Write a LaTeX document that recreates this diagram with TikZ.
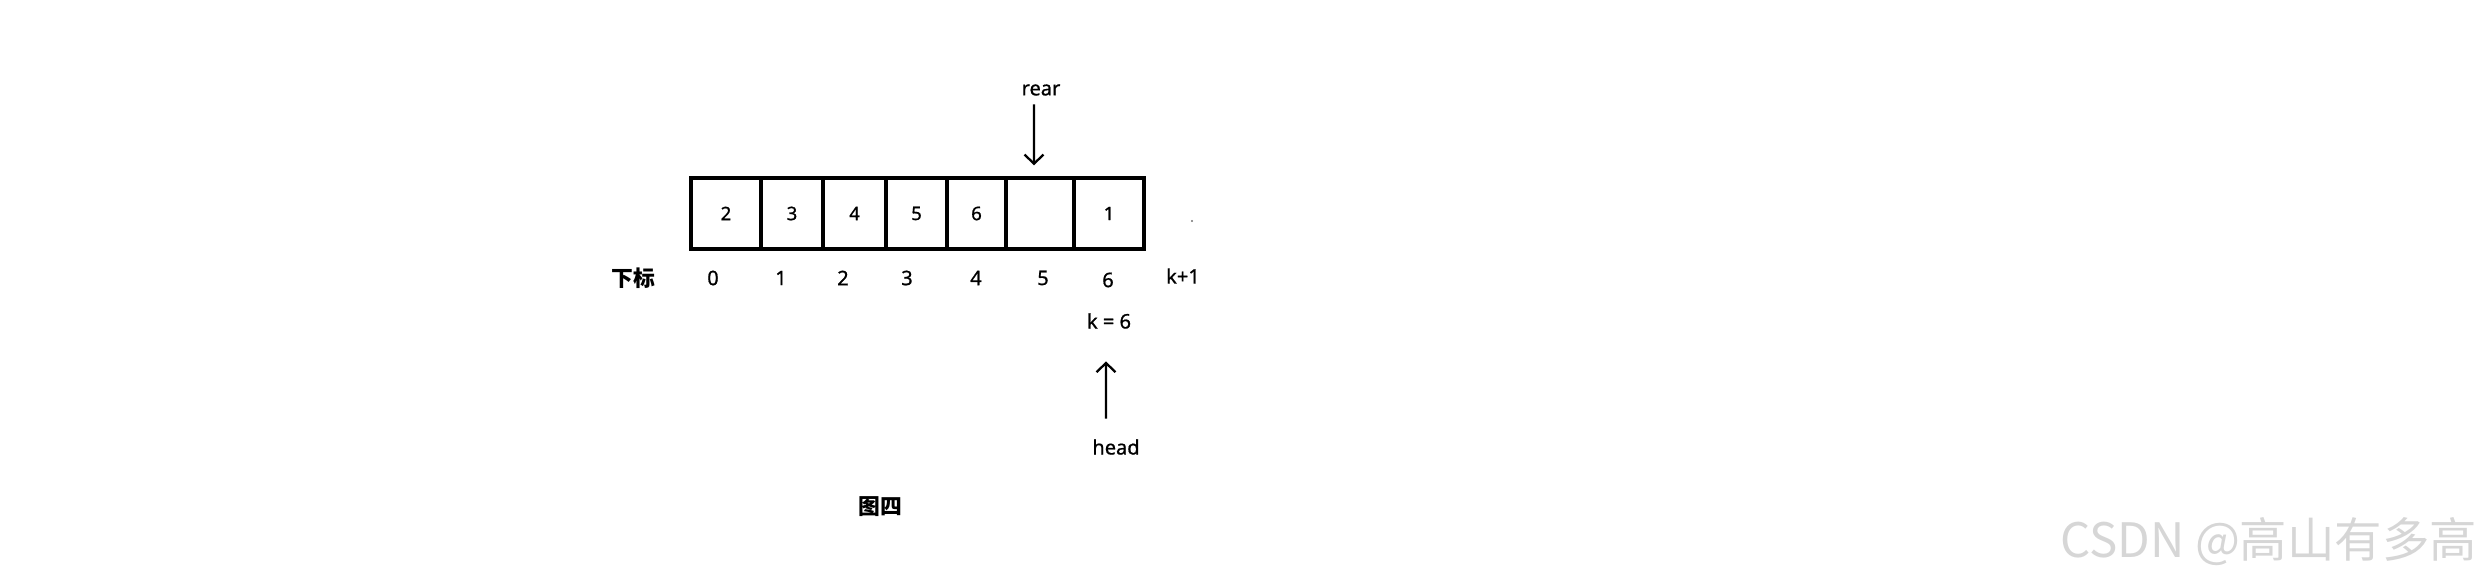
\documentclass[tikz,border=0pt]{standalone}
\usepackage{fontspec}
\setmainfont{Noto Sans}[FakeBold=0.8]
\newfontfamily\cjk{Noto Sans CJK SC}
\usepackage{tikz}
\usetikzlibrary{arrows.meta, positioning}
\definecolor{markgray}{RGB}{214, 214, 214}

\begin{document}
\begin{tikzpicture}[
          x=0.01cm, y=-0.01cm,
          cellbox/.style={draw, line width=0.95pt, minimum height=0.71cm, inner sep=0pt, font=\fontsize{5.3}{6}\selectfont},
          idxlabel/.style={inner sep=0pt, font=\fontsize{5.7}{7}\selectfont},
          ptrlabel/.style={inner sep=0pt, font=\fontsize{5.7}{7}\selectfont},
          cjklabel/.style={inner sep=0pt, font=\cjk\bfseries\fontsize{6.2}{8}\selectfont},
          arrow/.style={-{Straight Barb[length=2.6pt, width=5.4pt]}, line width=0.65pt}
        ]
          \useasboundingbox (0,0) rectangle (2484,580);

          % Queue cells
          \node[cellbox, minimum width=0.70cm] (c0) at (726, 213.5) {2};
          \node[cellbox, minimum width=0.62cm] (c1) at (792, 213.5) {3};
          \node[cellbox, minimum width=0.63cm] (c2) at (854.5, 213.5) {4};
          \node[cellbox, minimum width=0.61cm] (c3) at (916.5, 213.5) {5};
          \node[cellbox, minimum width=0.59cm] (c4) at (976.5, 213.5) {6};
          \node[cellbox, minimum width=0.68cm] (c5) at (1040, 213.5) {};
          \node[cellbox, minimum width=0.70cm] (c6) at (1109, 213.5) {1};
          \fill[black!55] (1192, 221) circle (1.2);

          % Index row
          \node[cjklabel] (idx) at (633, 278) {下标};
          \node[idxlabel] (i0) at (713, 278) {0};
          \node[idxlabel] (i1) at (781, 278) {1};
          \node[idxlabel] (i2) at (843, 278) {2};
          \node[idxlabel] (i3) at (907, 278) {3};
          \node[idxlabel] (i4) at (976, 278) {4};
          \node[idxlabel] (i5) at (1043, 278) {5};
          \node[idxlabel] (i6) at (1108, 280) {6};
          \node[idxlabel] (ik) at (1183, 276) {k+1};

          % Pointers
          \node[ptrlabel] (rear) at (1041, 90) {rear};
          \node[ptrlabel] (k) at (1109, 321) {k = 6};
          \node[ptrlabel] (head) at (1116, 447) {head};
          \draw[arrow, shorten <=0.08cm, shorten >=0.11cm] ([xshift=-0.07cm]rear.south) -- ([xshift=-0.06cm]c5.north);
          \draw[arrow, shorten <=0.2cm, shorten >=0.32cm] ([xshift=-0.1cm]head.north) -- ([xshift=-0.03cm]k.south);

          % Caption and watermark
          \node[cjklabel] (cap) at (880, 507) {图四};
          \node[anchor=east, inner sep=0pt, text=markgray, font=\cjk\fontsize{13.5}{16}\selectfont] (mark) at (2478, 542) {CSDN @高山有多高};
        \end{tikzpicture}
\end{document}
